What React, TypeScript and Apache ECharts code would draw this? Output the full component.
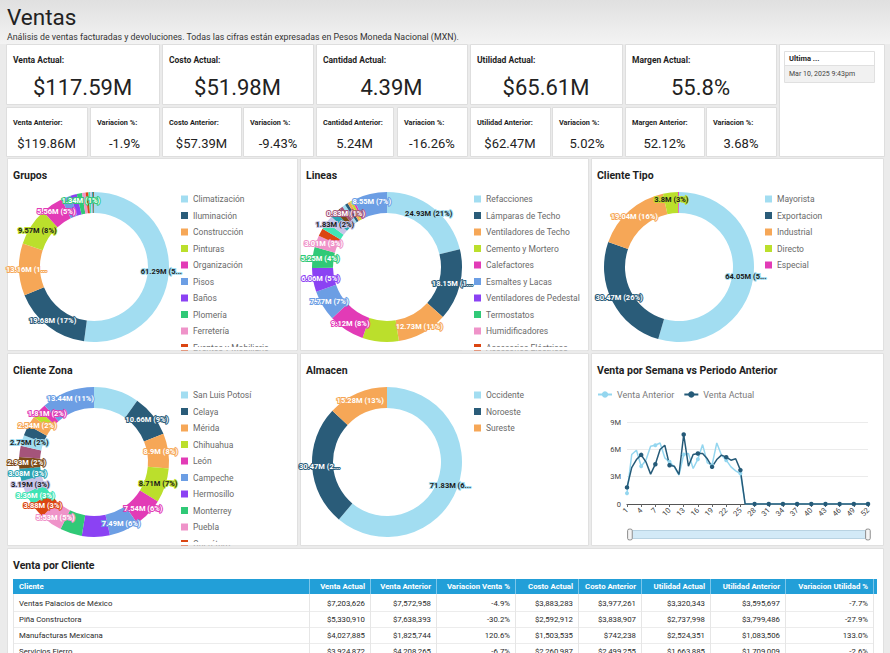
import React, { useEffect, useRef } from 'react';
import * as echarts from 'echarts';

const FONT = 'Roboto, "Noto Sans", sans-serif';

// ---------- DATA ----------
const kpiMainLabels = ['Venta Actual:', 'Costo Actual:', 'Cantidad Actual:', 'Utilidad Actual:', 'Margen Actual:'];
const kpiMainValues = ['$117.59M', '$51.98M', '4.39M', '$65.61M', '55.8%'];
const kpiSubLabels = ['Venta Anterior:', 'Variacion %:', 'Costo Anterior:', 'Variacion %:', 'Cantidad Anterior:', 'Variacion %:', 'Utilidad Anterior:', 'Variacion %:', 'Margen Anterior:', 'Variacion %:'];
const kpiSubValues = ['$119.86M', '-1.9%', '$57.39M', '-9.43%', '5.24M', '-16.26%', '$62.47M', '5.02%', '52.12%', '3.68%'];
const lastUpdateLabel = 'Ultima ...';
const lastUpdateValue = 'Mar 10, 2025 9:43pm';

const gruposNames = ['Climatización', 'Iluminación', 'Construcción', 'Pinturas', 'Organización', 'Pisos', 'Baños', 'Plomería', 'Ferretería', 'Eventos y Mobiliario', 'Jardinería', 'Herramientas', 'Seguridad', 'Limpieza'];
const gruposValues = [61.29, 19.68, 13.16, 9.57, 5.56, 2.39, 1.6, 1.34, 0.9, 0.7, 0.5, 0.4, 0.3, 0.2];

const lineasNames = ['Refacciones', 'Lámparas de Techo', 'Ventiladores de Techo', 'Cemento y Mortero', 'Calefactores', 'Esmaltes y Lacas', 'Ventiladores de Pedestal', 'Termostatos', 'Humidificadores', 'Accesorios Eléctricos', 'Cables', 'Apagadores', 'Contactos', 'Focos LED', 'Tuberías', 'Pegamentos', 'Selladores', 'Brochas', 'Rodillos', 'Extensiones', 'Otras Líneas'];
const lineasValues = [24.93, 18.15, 12.73, 9.21, 9.12, 7.77, 6.06, 5.25, 3.01, 2.01, 1.9, 1.83, 1.6, 1.3, 0.83, 0.8, 0.75, 0.7, 0.6, 0.5, 8.55];

const tipoNames = ['Mayorista', 'Exportacion', 'Industrial', 'Directo', 'Especial'];
const tipoValues = [64.05, 30.47, 19.04, 3.8, 0.23];

const zonaNames = ['San Luis Potosí', 'Celaya', 'Mérida', 'Chihuahua', 'León', 'Campeche', 'Hermosillo', 'Monterrey', 'Puebla', 'Querétaro', 'Guadalajara', 'Tijuana', 'Veracruz', 'Mazatlán', 'Saltillo', 'Cancún', 'Toluca', 'Morelia', 'Oaxaca', 'Durango', 'Otras Zonas'];
const zonaValues = [11.49, 10.66, 8.9, 8.71, 7.54, 7.49, 7.08, 5.58, 5.53, 3.88, 3.36, 3.19, 3.08, 2.93, 2.83, 2.75, 2.7, 2.54, 2.1, 1.81, 13.44];

const almacenNames = ['Occidente', 'Noroeste', 'Sureste'];
const almacenValues = [71.83, 30.47, 15.28];

const weeks = ['1', '2', '3', '4', '5', '6', '7', '8', '9', '10', '11', '12', '13', '14', '15', '16', '17', '18', '19', '20', '21', '22', '23', '24', '25', '26', '27', '28', '29', '30', '31', '32', '33', '34', '35', '36', '37', '38', '39', '40', '41', '42', '43', '44', '45', '46', '47', '48', '49', '50', '51', '52'];
const ventaAnteriorSemana = [1.17, 5.43, 5.9, 4.15, 4.81, 6.34, 6.45, 6.7, 5.07, 4.63, 4.08, 3.17, 5.43, 5.54, 3.9, 4.92, 6.52, 4.52, 4.26, 6.7, 5.36, 4.81, 4.08, 3.64, 3.35, 0, 0, 0, 0, 0, 0, 0, 0, 0, 0, 0, 0, 0, 0, 0, 0, 0, 0, 0, 0, 0, 0, 0, 0, 0, 0, 0];
const ventaActualSemana = [1.82, 4.0, 4.88, 5.39, 4.63, 3.28, 4.37, 5.98, 6.45, 4.26, 4.15, 3.24, 7.62, 4.15, 5.43, 5.54, 5.54, 4.96, 4.08, 4.88, 5.36, 5.14, 4.81, 4.96, 3.72, 0, 0, 0, 0, 0, 0, 0, 0, 0, 0, 0, 0, 0, 0, 0, 0, 0, 0, 0, 0, 0, 0, 0, 0, 0, 0, 0];
const yTicks = [0, 3, 6, 9];

const tableHeaders = ['Cliente', 'Venta Actual', 'Venta Anterior', 'Variacion Venta %', 'Costo Actual', 'Costo Anterior', 'Utilidad Actual', 'Utilidad Anterior', 'Variacion Utilidad %'];
const clientes = ['Ventas Palacios de México', 'Piña Constructora', 'Manufacturas Mexicana', 'Servicios Fierro'];
const ventaActual = [7203626, 5330910, 4027885, 3924872];
const ventaAnterior = [7572958, 7638393, 1825744, 4208265];
const costoActual = [3883283, 2592912, 1503535, 2260987];
const costoAnterior = [3977261, 3838907, 742238, 2499255];
const utilidadActual = [3320343, 2737998, 2524351, 1663885];
const utilidadAnterior = [3595697, 3799486, 1083506, 1709009];

// ---------- STYLE ----------
const PALETTE = ['#A2DDF1', '#2A5C79', '#F6A757', '#BBDF2C', '#E23BB6', '#6C9EE4', '#8B42F3', '#30C977', '#EF93C9', '#DB4512', '#3FE4B4', '#C8C4E8', '#2BA3B3', '#7B4A18', '#A5547A'];
const DARK_TEXT = [0, 3, 11];

function fmtM(v: number) {
  return `${parseFloat(v.toFixed(2))}M`;
}
function fmtMoney(v: number) {
  return '$' + v.toLocaleString('en-US');
}
function fmtVar(a: number, b: number) {
  return `${(((a - b) / b) * 100).toFixed(1)}%`;
}

function pieSeries(name: string, names: string[], values: number[], center: number[], hidden: number[], trunc: number[]) {
  return {
    type: 'pie',
    name,
    center,
    radius: [54, 75],
    silent: true,
    startAngle: 90,
    label: {
      show: true,
      position: 'inside',
      fontSize: 7.5,
      fontWeight: 'bold',
      fontFamily: FONT,
      textBorderWidth: 2,
      formatter: (p: any) => `${fmtM(p.value)} (${Math.round(p.percent)}%)`,
    },
    labelLine: { show: false },
    emphasis: { disabled: true },
    itemStyle: { borderWidth: 0 },
    data: values.map((v, i) => {
      const ci = i % PALETTE.length;
      const c = PALETTE[ci];
      const lab: any = { color: DARK_TEXT.includes(ci) ? '#1b1b1b' : '#ffffff', textBorderColor: c };
      if (hidden.includes(i)) lab.show = false;
      if (trunc.includes(i)) {
        lab.width = 46;
        lab.overflow = 'truncate';
        lab.ellipsis = '...';
      }
      return { name: names[i], value: v, itemStyle: { color: c }, label: lab };
    }),
  };
}

function pieLegend(names: string[], left: number, top: number) {
  return {
    show: true,
    orient: 'vertical',
    left,
    top,
    padding: 0,
    itemWidth: 7,
    itemHeight: 7,
    itemGap: 4.5,
    icon: 'rect',
    selectedMode: false,
    data: names.slice(0, 10),
    textStyle: { fontSize: 8.5, color: '#6a6a6a', fontFamily: FONT, lineHeight: 12 },
  };
}

function buildOption() {
  const G: any[] = [];
  const R = (x: number, y: number, w: number, h: number, fill: any, stroke?: string, z = 0) =>
    G.push({ type: 'rect', silent: true, z, shape: { x, y, width: w, height: h }, style: { fill, stroke: stroke || null, lineWidth: stroke ? 1 : 0 } });
  const T = (x: number, y: number, text: string, size: number, fill: string, weight = 'normal', align = 'left', z = 1) =>
    G.push({ type: 'text', silent: true, z, x, y, style: { text, fontSize: size, fontFamily: FONT, fontWeight: weight, fill, align, verticalAlign: 'middle' } });
  const L = (x1: number, y1: number, x2: number, y2: number, stroke: string, z = 1) =>
    G.push({ type: 'line', silent: true, z, shape: { x1, y1, x2, y2 }, style: { stroke, lineWidth: 1 } });

  // header
  R(0, 0, 890, 44, { type: 'linear', x: 0, y: 0, x2: 0, y2: 1, colorStops: [{ offset: 0, color: '#e0e0e0' }, { offset: 1, color: '#f3f3f3' }] });
  T(7, 17, 'Ventas', 22.5, '#222');
  T(7, 36.5, 'Análisis de ventas facturadas y devoluciones. Todas las cifras están expresadas en Pesos Moneda Nacional (MXN).', 8.8, '#333');

  // KPI cards
  const row1 = [[6, 153], [162, 151], [316, 151], [470, 152], [625, 151]];
  row1.forEach(([x, w], i) => {
    R(x + 0.5, 44.5, w, 60, '#fff', '#dedede');
    T(x + 7, 60, kpiMainLabels[i], 8.5, '#1e1e1e', 'bold');
    T(x + w / 2, 87, kpiMainValues[i], 22, '#222', 'normal', 'center');
  });
  const row2 = [[6, 81], [90, 69], [162, 79], [243, 70], [316, 77], [397, 70], [470, 80], [552, 70], [625, 79], [706, 70]];
  row2.forEach(([x, w], i) => {
    R(x + 0.5, 107.5, w, 49, '#fff', '#dedede');
    T(x + 7, 122.5, kpiSubLabels[i], 7.3, '#1e1e1e', 'bold');
    T(x + w / 2, 143, kpiSubValues[i], 13, '#222', 'normal', 'center');
  });
  R(779.5, 44.5, 105, 112, '#fff', '#dedede');
  R(784.5, 51.5, 90, 31, '#fff', '#e0e0e0');
  R(785, 65, 89, 17, '#f1f1f1');
  L(785, 65.5, 874, 65.5, '#e0e0e0');
  T(789, 58.5, lastUpdateLabel, 7.5, '#1e1e1e', 'bold');
  T(789, 73.5, lastUpdateValue, 7, '#444');

  // chart panels
  const cols = [[7, 290], [300, 288], [591, 292]];
  const rowsY = [158, 353];
  const titles = [['Grupos', 'Lineas', 'Cliente Tipo'], ['Cliente Zona', 'Almacen', 'Venta por Semana vs Periodo Anterior']];
  rowsY.forEach((y, r) => {
    cols.forEach(([x, w], c) => {
      R(x + 0.5, y + 0.5, w, 192, '#fff', '#e0e0e0');
      T(x + 6, y + 17, titles[r][c], 10.5, '#1e1e1e', 'bold');
    });
  });
  // legend clipping covers
  R(170, 347, 126, 3, '#fff', undefined, 100);
  R(170, 350.5, 126, 2.5, '#ebebeb', undefined, 100);
  R(462, 347, 125, 3, '#fff', undefined, 100);
  R(462, 350.5, 125, 2.5, '#ebebeb', undefined, 100);
  R(170, 542, 126, 3, '#fff', undefined, 100);
  R(170, 545.5, 126, 2.5, '#ebebeb', undefined, 100);

  // table panel
  R(7.5, 548.5, 876, 120, '#fff', '#e0e0e0');
  T(13, 565, 'Venta por Cliente', 10.5, '#1e1e1e', 'bold');
  const edges = [13, 309, 370, 436, 515, 578, 641, 710, 785, 873];
  R(13, 579, 864, 15, '#229FD8');
  for (let i = 1; i < edges.length; i++) L(edges[i] + 0.5, 579, edges[i] + 0.5, 594, '#7cc6ea', 2);
  tableHeaders.forEach((h, i) => {
    if (i === 0) T(edges[0] + 6, 586.5, h, 7.8, '#fff', 'bold', 'left', 3);
    else T(edges[i + 1] - 5, 586.5, h, 7.8, '#fff', 'bold', 'right', 3);
  });
  const rows = clientes.map((c, i) => [
    c,
    fmtMoney(ventaActual[i]),
    fmtMoney(ventaAnterior[i]),
    fmtVar(ventaActual[i], ventaAnterior[i]),
    fmtMoney(costoActual[i]),
    fmtMoney(costoAnterior[i]),
    fmtMoney(utilidadActual[i]),
    fmtMoney(utilidadAnterior[i]),
    fmtVar(utilidadActual[i], utilidadAnterior[i]),
  ]);
  rows.forEach((row, r) => {
    const yc = 603 + r * 16;
    L(13, yc + 8.5, 873, yc + 8.5, '#ececec');
    row.forEach((cell, i) => {
      if (i === 0) T(edges[0] + 6, yc, cell, 7.8, '#2a2a2a');
      else T(edges[i + 1] - 5, yc, cell, 7.8, '#2a2a2a', 'normal', 'right');
    });
  });
  for (let i = 0; i < edges.length; i++) L(edges[i] + 0.5, 594, edges[i] + 0.5, 653, '#e6e6e6');

  return {
    backgroundColor: '#ebebeb',
    animation: false,
    color: PALETTE,
    textStyle: { fontFamily: FONT },
    graphic: { elements: G },
    legend: [
      pieLegend(gruposNames, 181, 193),
      pieLegend(lineasNames, 474, 193),
      pieLegend(tipoNames, 765, 193),
      pieLegend(zonaNames, 181, 389),
      pieLegend(almacenNames, 474, 389),
      {
        show: true,
        left: 597,
        top: 390,
        padding: 0,
        itemWidth: 14,
        itemHeight: 8,
        itemGap: 9,
        selectedMode: false,
        data: ['Venta Anterior', 'Venta Actual'],
        textStyle: { fontSize: 9, color: '#7a7a7a', fontFamily: FONT },
      },
    ],
    grid: { left: 627, top: 422, width: 241, height: 82, containLabel: false },
    xAxis: {
      type: 'category',
      data: weeks,
      boundaryGap: false,
      axisLine: { lineStyle: { color: '#555', width: 1.2 } },
      axisTick: { show: true, interval: 2, length: 3, lineStyle: { color: '#666' } },
      axisLabel: { interval: 2, rotate: 45, fontSize: 7.5, color: '#444', margin: 5, fontFamily: FONT },
    },
    yAxis: {
      type: 'value',
      min: yTicks[0],
      max: yTicks[yTicks.length - 1],
      interval: 3,
      axisLine: { show: false },
      axisTick: { show: false },
      axisLabel: { fontSize: 7.5, color: '#444', margin: 6, fontFamily: FONT, formatter: (v: number) => (v === 0 ? '0' : `${v}M`) },
      splitLine: { lineStyle: { color: '#ebebeb' } },
    },
    dataZoom: [
      {
        type: 'slider',
        xAxisIndex: 0,
        start: 0,
        end: 100,
        left: 628,
        width: 240,
        top: 530,
        height: 9,
        showDetail: false,
        showDataShadow: false,
        brushSelect: false,
        moveHandleSize: 0,
        backgroundColor: 'rgba(0,0,0,0)',
        borderColor: '#b9d3e2',
        fillerColor: '#d3eaf7',
        handleIcon: 'path://M2,0 L4,0 Q6,0 6,2 L6,12 Q6,14 4,14 L2,14 Q0,14 0,12 L0,2 Q0,0 2,0 Z',
        handleSize: '120%',
        handleStyle: { color: '#f4f4f4', borderColor: '#8c8c8c' },
      },
    ],
    series: [
      pieSeries('Grupos', gruposNames, gruposValues, [94, 267], [5, 6, 8, 9, 10, 11, 12, 13], [0, 2]),
      pieSeries('Lineas', lineasNames, lineasValues, [387, 267], [10, 12, 13, 15, 16, 17, 18, 19], [1, 7]),
      pieSeries('Cliente Tipo', tipoNames, tipoValues, [679, 267], [4], [0]),
      pieSeries('Cliente Zona', zonaNames, zonaValues, [94, 462], [6, 18], [13]),
      pieSeries('Almacen', almacenNames, almacenValues, [387, 462], [], [0, 1]),
      {
        type: 'line',
        name: 'Venta Anterior',
        data: ventaAnteriorSemana,
        color: '#94D6EF',
        symbol: 'circle',
        symbolSize: 4,
        lineStyle: { width: 1.5, color: '#94D6EF' },
        itemStyle: { color: '#94D6EF' },
        silent: true,
      },
      {
        type: 'line',
        name: 'Venta Actual',
        data: ventaActualSemana,
        color: '#255A78',
        symbol: 'circle',
        symbolSize: 4.5,
        lineStyle: { width: 1.5, color: '#255A78' },
        itemStyle: { color: '#255A78' },
        silent: true,
      },
    ],
  };
}

export default function App() {
  const ref = useRef<HTMLDivElement>(null);
  useEffect(() => {
    const chart = echarts.init(ref.current as HTMLDivElement, null, { renderer: 'svg', width: 890, height: 653 });
    chart.setOption(buildOption() as any);
    return () => chart.dispose();
  }, []);
  return <div ref={ref} style={{ position: 'fixed', left: 0, top: 0, width: 890, height: 653 }} />;
}
